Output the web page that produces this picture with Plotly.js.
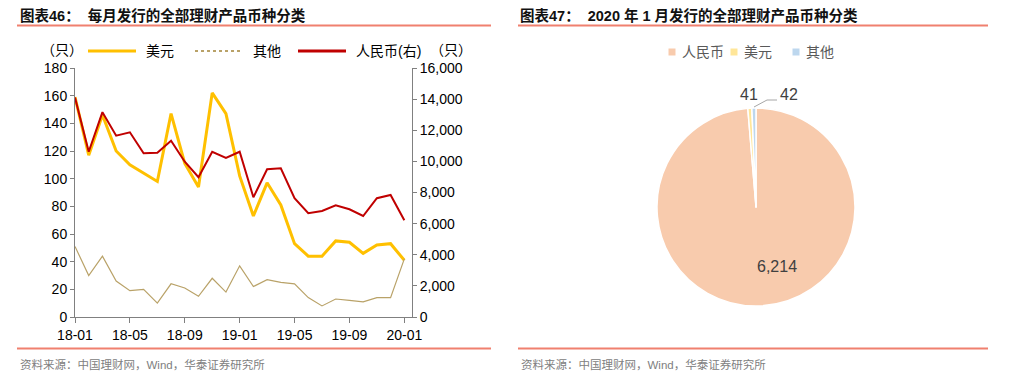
<!DOCTYPE html>
<html>
<head>
<meta charset="utf-8">
<script src="https://cdn.plot.ly/plotly-3.0.1.min.js"></script>
<style>html,body{margin:0;padding:0;background:#fff;}#chart{width:1029px;height:385px;}</style>
</head>
<body>
<div id="chart"></div>
<script>
// ---- data ----
const months = ['18-01','18-02','18-03','18-04','18-05','18-06','18-07','18-08','18-09','18-10','18-11','18-12',
                '19-01','19-02','19-03','19-04','19-05','19-06','19-07','19-08','19-09','19-10','19-11','19-12','20-01'];
const usd   = [159,117,146,120,110,104,98,147,111,94,162,147,102,73,97,81,53,44,44,55,54,46,52,53,41];
const other = [51,30,44,26,19,20,10,24,21,15,28,18,37,22,27,25,24,14,8,13,12,11,14,14,42];
const rmb   = [14100,10620,13160,11650,11870,10520,10560,11330,9980,8980,10620,10220,10620,7690,9490,9560,7630,6670,6810,7180,6920,6490,7630,7840,6214];
const xTicks = ['18-01','18-05','18-09','19-01','19-05','19-09','20-01'];
const pieLabels = ['人民币','美元','其他'];
const pieValues = [6214, 41, 42];
const seriesNames = ['美元','其他','人民币(右)'];

const W = 1029, H = 385;
const px = x => x / W;
const py = y => 1 - y / H;
const FONT = 'Liberation Sans, Arial, Noto Sans CJK SC, sans-serif';
const fmt = v => v.toLocaleString('en-US');

const lineColors = ['#FFC000','#B9A268','#C00000'];
const lineWidths = [3, 1.2, 2];
const pieColors = ['#F8CBAD','#FFE699','#BDD7EE'];

const traces = [
  {type:'scatter', mode:'lines', name:seriesNames[0], x:months, y:usd, xaxis:'x', yaxis:'y',
   line:{color:lineColors[0], width:lineWidths[0]}, showlegend:false},
  {type:'scatter', mode:'lines', name:seriesNames[1], x:months, y:other, xaxis:'x', yaxis:'y',
   line:{color:lineColors[1], width:lineWidths[1]}, showlegend:false},
  {type:'scatter', mode:'lines', name:seriesNames[2], x:months, y:rmb, xaxis:'x', yaxis:'y2',
   line:{color:lineColors[2], width:lineWidths[2]}, showlegend:false},
  {type:'pie', labels:pieLabels, values:pieValues, sort:false, direction:'clockwise', rotation:0, showlegend:false,
   marker:{colors:pieColors, line:{color:'#ffffff', width:1.5}},
   textinfo:'none', hoverinfo:'label+value',
   domain:{x:[px(657), px(855)], y:[py(306), py(108)]}}
];

const annotations = [
  {text:'<b>图表46：  每月发行的全部理财产品币种分类</b>', x:px(18), y:py(15), xref:'paper', yref:'paper', xanchor:'left', yanchor:'middle', showarrow:false, font:{size:14.5, color:'#111'}},
  {text:'<b>图表47：  2020 年 1 月发行的全部理财产品币种分类</b>', x:px(518), y:py(15), xref:'paper', yref:'paper', xanchor:'left', yanchor:'middle', showarrow:false, font:{size:14.5, color:'#111'}},
  {text:'（只）', x:px(62), y:py(50), xref:'paper', yref:'paper', xanchor:'center', yanchor:'middle', showarrow:false, font:{size:14, color:'#000'}},
  {text:'（只）', x:px(451), y:py(50), xref:'paper', yref:'paper', xanchor:'center', yanchor:'middle', showarrow:false, font:{size:14, color:'#000'}},
  {text:'资料来源：中国理财网，Wind，华泰证券研究所', x:px(18), y:py(364), xref:'paper', yref:'paper', xanchor:'left', yanchor:'middle', showarrow:false, font:{size:11.5, color:'#808080'}},
  {text:'资料来源：中国理财网，Wind，华泰证券研究所', x:px(519), y:py(364), xref:'paper', yref:'paper', xanchor:'left', yanchor:'middle', showarrow:false, font:{size:11.5, color:'#808080'}},
  {text:fmt(pieValues[0]), x:px(777), y:py(266), xref:'paper', yref:'paper', xanchor:'center', yanchor:'middle', showarrow:false, font:{size:16, color:'#404040'}},
  {text:fmt(pieValues[1]), x:px(749), y:py(95), xref:'paper', yref:'paper', xanchor:'center', yanchor:'middle', showarrow:false, font:{size:16, color:'#404040'}},
  {text:fmt(pieValues[2]), x:px(789), y:py(95), xref:'paper', yref:'paper', xanchor:'center', yanchor:'middle', showarrow:false, font:{size:16, color:'#404040'}}
];

const lineCol = '#F0806F';
const shapes = [
  {type:'line', xref:'paper', yref:'paper', x0:px(17), x1:px(491), y0:py(25.5), y1:py(25.5), line:{color:lineCol, width:2}},
  {type:'line', xref:'paper', yref:'paper', x0:px(518), x1:px(988), y0:py(25.5), y1:py(25.5), line:{color:lineCol, width:2}},
  {type:'line', xref:'paper', yref:'paper', x0:px(17), x1:px(491), y0:py(348.5), y1:py(348.5), line:{color:lineCol, width:2}},
  {type:'line', xref:'paper', yref:'paper', x0:px(518), x1:px(988), y0:py(348.5), y1:py(348.5), line:{color:lineCol, width:2}},
  {type:'path', xref:'paper', yref:'paper', path:`M ${px(754)} ${py(107)} L ${px(767)} ${py(100)} L ${px(777)} ${py(100)}`, line:{color:'#A6A6A6', width:1}}
];

// custom legend for the line chart (sample line + label)
const lineLegendX = [88, 195, 298];
seriesNames.forEach((n, i) => {
  const x0 = lineLegendX[i];
  shapes.push({type:'line', xref:'paper', yref:'paper', x0:px(x0), x1:px(x0 + 48), y0:py(51), y1:py(51),
               line:{color:lineColors[i], width: i === 1 ? 2 : 3, dash: i === 1 ? 'dot' : 'solid'}});
  annotations.push({text:n, x:px(x0 + 56), y:py(51), xref:'paper', yref:'paper', xanchor:'left', yanchor:'middle',
                    showarrow:false, font:{size:14, color:'#000'}});
});
// custom legend for the pie (square + label)
const pieLegendX = [672, 734, 796];
pieLabels.forEach((n, i) => {
  const cx = pieLegendX[i];
  shapes.push({type:'rect', xref:'paper', yref:'paper', x0:px(cx - 3.5), x1:px(cx + 3.5), y0:py(55.5), y1:py(48.5),
               fillcolor:pieColors[i], line:{width:0}});
  annotations.push({text:n, x:px(cx + 8), y:py(52), xref:'paper', yref:'paper', xanchor:'left', yanchor:'middle',
                    showarrow:false, font:{size:14, color:'#595959'}});
});

const axCol = '#808080';
const layout = {
  width:W, height:H, margin:{l:0,r:0,t:0,b:0}, paper_bgcolor:'#fff', plot_bgcolor:'rgba(0,0,0,0)',
  font:{family:FONT, size:14, color:'#000'},
  showlegend:false,
  xaxis:{type:'category', domain:[px(75), px(412)], range:[0, 24.56], anchor:'y',
         tickmode:'array', tickvals:xTicks, ticktext:xTicks, ticks:'outside', ticklen:5, tickcolor:axCol,
         showline:true, linecolor:axCol, linewidth:1, showgrid:false, zeroline:false, tickfont:{size:14}},
  yaxis:{domain:[py(317), py(68)], range:[0,180], dtick:20, anchor:'x', ticks:'outside', ticklen:4, tickcolor:axCol,
         showline:true, linecolor:axCol, linewidth:1, showgrid:false, zeroline:false, tickfont:{size:14}},
  yaxis2:{range:[0,16000], dtick:2000, overlaying:'y', side:'right', anchor:'x', tickformat:',d', ticks:'outside', ticklen:4, tickcolor:axCol,
          showline:true, linecolor:axCol, linewidth:1, showgrid:false, zeroline:false, tickfont:{size:14}},
  annotations:annotations, shapes:shapes
};

Plotly.newPlot('chart', traces, layout, {displayModeBar:false, staticPlot:true});
</script>
</body>
</html>
